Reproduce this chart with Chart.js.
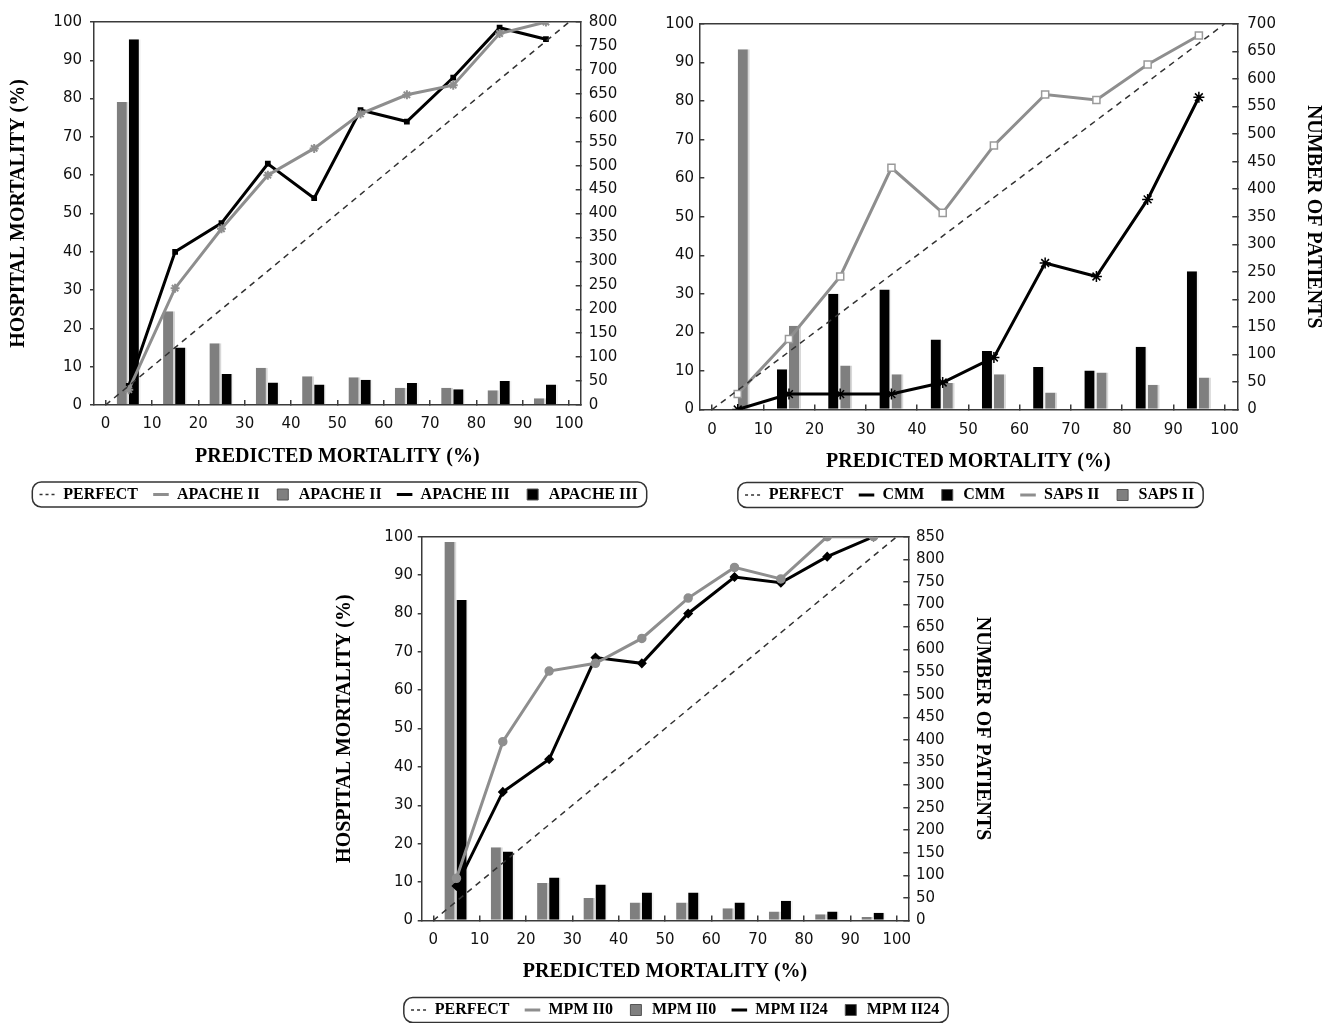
<!DOCTYPE html>
<html>
<head>
<meta charset="utf-8">
<script src="https://cdn.jsdelivr.net/npm/chart.js@4.4.1/dist/chart.umd.min.js"></script>
<style>
html,body{margin:0;padding:0;background:#fff;overflow:hidden;width:1338px;height:1023px;}
.panel{position:absolute;}
canvas{display:block;}
</style>
</head>
<body>
<div class="panel" style="left:0px;top:0px;width:677px;height:515px"><canvas id="c1" width="677" height="515"></canvas></div>
<div class="panel" style="left:614px;top:0px;width:711px;height:515px"><canvas id="c2" width="711" height="515"></canvas></div>
<div class="panel" style="left:320px;top:515px;width:710px;height:515px"><canvas id="c3" width="710" height="515"></canvas></div>
<script>
// ---------------- DATA ----------------
const predicted = [5, 15, 25, 35, 45, 55, 65, 75, 85, 95];
const perfectX = [0, 100];
const perfectY = [0, 100];
const xTicks = [0, 10, 20, 30, 40, 50, 60, 70, 80, 90, 100];
const leftTicks = [0, 10, 20, 30, 40, 50, 60, 70, 80, 90, 100];
const rightTicks1 = [0, 50, 100, 150, 200, 250, 300, 350, 400, 450, 500, 550, 600, 650, 700, 750, 800];
const rightTicks2 = [0, 50, 100, 150, 200, 250, 300, 350, 400, 450, 500, 550, 600, 650, 700];
const rightTicks3 = [0, 50, 100, 150, 200, 250, 300, 350, 400, 450, 500, 550, 600, 650, 700, 750, 800, 850];

// Panel 1
const apache2Mortality = [4, 30.5, 46, 60, 67, 76, 81, 83.5, 97, 100];
const apache2Patients  = [633, 196, 129, 78, 60, 58, 36, 36, 31, 14];
const apache3Mortality = [5, 40, 47.5, 63, 54, 77, 74, 85.5, 98.5, 95.5];
const apache3Patients  = [764, 120, 65, 47, 43, 53, 46, 33, 50, 43];

// Panel 2
const cmmMortality   = [0, 4, 4, 4, 7, 13.5, 38, 34.5, 54.5, 81];
const cmmPatients    = [0, 73, 210, 218, 127, 106, 77, 71, 114, 251];
const saps2Mortality = [4, 18.3, 34.5, 62.7, 51, 68.5, 81.7, 80.3, 89.5, 97];
const saps2Patients  = [654, 152, 80, 64, 48, 64, 31, 67, 45, 58];

// Panel 3
const mpm0Mortality  = [11, 46.6, 65, 67, 73.5, 84, 92, 89, 100, 100];
const mpm0Patients   = [838, 162, 83, 50, 40, 40, 27, 20, 14, 8];
const mpm24Mortality = [9, 33.5, 42, 68.5, 67, 80, 89.5, 88, 94.8, 100];
const mpm24Patients  = [710, 153, 95, 80, 62, 62, 40, 44, 20, 17];

// ---------------- STYLE ----------------
Chart.defaults.font.family = "'DejaVu Sans', Verdana, sans-serif";
const GRAY_BAR = '#7f7f7f';
const GRAY_LINE = '#8e8e8e';
const AXIS = '#3a3a3a';
const serifBold = (size) => ({family: "'Liberation Serif', 'Times New Roman', serif", weight: 'bold', size: size, lineHeight: 1});
const tickArr = (arr) => (s) => { s.ticks = arr.map(v => ({value: v})); };
const pts = (ys) => predicted.map((x, i) => ({x: x, y: ys[i]}));

function lineDs(label, ys, color, style) {
  return Object.assign({
    type: 'line', label: label, data: pts(ys), borderColor: color, backgroundColor: color,
    borderWidth: 3, tension: 0, xAxisID: 'x', yAxisID: 'y', order: 0,
    pointRadius: 4, pointBackgroundColor: color, pointBorderColor: color, pointBorderWidth: 1.5
  }, style);
}
function barDs(label, ys, color, edge, cat) {
  return {
    type: 'bar', label: label, data: pts(ys), backgroundColor: color,
    borderColor: edge, borderWidth: {top: 0, right: 2, bottom: 0, left: 0},
    xAxisID: 'x', yAxisID: 'y1', order: 1, barPercentage: 1, categoryPercentage: cat
  };
}

const legendFrame = {
  id: 'legendFrame',
  afterDraw(chart) {
    const lg = chart.legend;
    if (!lg || !lg.legendHitBoxes || !lg.legendHitBoxes.length) return;
    const hb = lg.legendHitBoxes;
    const l = Math.min(...hb.map(h => h.left)) - 7;
    const r = Math.max(...hb.map(h => h.left + h.width)) + 9;
    const cy = hb[0].top + hb[0].height / 2;
    const ctx = chart.ctx;
    ctx.save();
    ctx.beginPath();
    ctx.roundRect(l, cy - 12.5, r - l, 25, 9);
    ctx.lineWidth = 1.5;
    ctx.strokeStyle = '#333';
    ctx.stroke();
    ctx.restore();
  }
};

function genLabels(chart) {
  const items = Chart.defaults.plugins.legend.labels.generateLabels(chart);
  items.forEach(it => {
    const ds = chart.data.datasets[it.datasetIndex];
    if (ds.type === 'bar') {
      it.pointStyle = 'rect';
      it.fillStyle = ds.backgroundColor;
      it.strokeStyle = '#555';
      it.lineWidth = 1;
      it.lineDash = [];
    } else {
      it.pointStyle = 'line';
      it.strokeStyle = ds.borderColor;
      it.lineWidth = ds.borderDash ? 1.5 : 3;
      it.lineDash = ds.borderDash ? [3, 3] : [];
    }
    it.rotation = 0;
    it.fontColor = '#000';
  });
  return items;
}

function buildChart(id, spec) {
  const datasets = [
    {type: 'line', label: 'PERFECT', data: perfectX.map((x, i) => ({x: x, y: perfectY[i]})),
     borderColor: '#333', backgroundColor: '#333', borderWidth: 1.5, borderDash: [6, 5],
     pointRadius: 0, xAxisID: 'x', yAxisID: 'y', order: 0}
  ].concat(spec.series);

  const axisTitle = (text, pt) => ({display: true, text: text, color: '#000', font: serifBold(20), padding: {top: pt, bottom: 0}});

  return new Chart(document.getElementById(id), {
    type: 'line',
    data: {datasets: datasets},
    options: {
      responsive: false, animation: false, devicePixelRatio: 1,
      layout: {padding: spec.pad},
      plugins: {
        tooltip: {enabled: false},
        legend: {
          position: 'bottom',
          labels: {
            usePointStyle: true, boxWidth: 16, boxHeight: 11, padding: 15, color: '#000',
            font: serifBold(16), generateLabels: genLabels,
            sort: (a, b) => a.datasetIndex - b.datasetIndex
          }
        }
      },
      scales: {
        x: {
          type: 'linear', position: 'bottom', min: -2.5, max: 102.5, offset: false,
          afterBuildTicks: tickArr(xTicks),
          afterFit: (s) => { s.height = spec.xH; },
          grid: {drawOnChartArea: false, offset: false, tickLength: -5, color: AXIS, lineWidth: 1.5},
          border: {display: true, color: AXIS, width: 1.5},
          ticks: {padding: spec.xPad, color: '#111', font: {size: 15}, maxRotation: 0, autoSkip: false},
          title: {display: true, text: 'PREDICTED MORTALITY (%)', color: '#000', font: serifBold(20), padding: {top: 0, bottom: spec.xTitlePb}}
        },
        xTop: {
          type: 'linear', position: 'top', min: -2.5, max: 102.5, offset: false,
          afterFit: (s) => { s.height = 0; },
          grid: {display: false}, ticks: {display: false},
          border: {display: true, color: AXIS, width: 1.5}
        },
        y: {
          type: 'linear', position: 'left', min: 0, max: 100,
          afterBuildTicks: tickArr(leftTicks),
          afterFit: (s) => { s.width = spec.yW; },
          grid: {drawOnChartArea: false, tickLength: spec.yTl, color: AXIS, lineWidth: 1.5},
          border: {display: true, color: AXIS, width: 1.5},
          ticks: {padding: spec.yPad, color: '#111', font: {size: 15}, autoSkip: false},
          title: spec.yTitle ? axisTitle('HOSPITAL MORTALITY (%)', spec.yTitlePt) : {display: false}
        },
        y1: {
          type: 'linear', position: 'right', min: 0, max: spec.rightTicks[spec.rightTicks.length - 1],
          afterBuildTicks: tickArr(spec.rightTicks),
          afterFit: (s) => { s.width = spec.y1W; },
          grid: {drawOnChartArea: false, tickLength: -5, color: AXIS, lineWidth: 1.5},
          border: {display: true, color: AXIS, width: 1.5},
          ticks: {padding: spec.y1Pad, color: '#111', font: {size: 15}, autoSkip: false},
          title: spec.y1Title ? axisTitle('NUMBER OF PATIENTS', spec.y1TitlePt) : {display: false}
        }
      }
    },
    plugins: [legendFrame]
  });
}

// Panel 1
buildChart('c1', {
  pad: {top: 17.5, right: 0, bottom: 2.5, left: 0},
  xH: 66.5, xPad: 15, xTitlePb: 4.5,
  yW: 94, yTl: 4, yPad: 8, yTitle: true, yTitlePt: 9,
  y1W: 96.3, y1Pad: 13, y1Title: false, rightTicks: rightTicks1,
  series: [
    lineDs('APACHE II', apache2Mortality, GRAY_LINE, {pointStyle: 'star', pointRadius: 4.5, pointBorderWidth: 2}),
    barDs('APACHE II', apache2Patients, GRAY_BAR, '#d8d8d8', 0.52),
    lineDs('APACHE III', apache3Mortality, '#000', {pointStyle: 'rect', pointRadius: 3}),
    barDs('APACHE III', apache3Patients, '#000', '#f2f2f2', 0.52)
  ]
});

// Panel 2
buildChart('c2', {
  pad: {top: 12, right: 0, bottom: 2, left: 0},
  xH: 62.5, xPad: 16.5, xTitlePb: 0,
  yW: 85.3, yTl: -5, yPad: 10.3, yTitle: false,
  y1W: 87.7, y1Pad: 15, y1Title: true, y1TitlePt: 2, rightTicks: rightTicks2,
  series: [
    lineDs('CMM', cmmMortality, '#000', {pointStyle: 'star', pointRadius: 5.5, pointBorderWidth: 1.5}),
    barDs('CMM', cmmPatients, '#000', '#f2f2f2', 0.47),
    lineDs('SAPS II', saps2Mortality, GRAY_LINE, {pointStyle: 'rect', pointRadius: 5, pointBackgroundColor: '#fff', pointBorderColor: '#9a9a9a', pointBorderWidth: 1.5}),
    barDs('SAPS II', saps2Patients, GRAY_BAR, '#d8d8d8', 0.47)
  ]
});

// Panel 3
buildChart('c3', {
  pad: {top: 9.6, right: 0, bottom: 2, left: 0},
  xH: 66.5, xPad: 15.5, xTitlePb: 5,
  yW: 101.7, yTl: 4, yPad: 4.7, yTitle: true, yTitlePt: 15,
  y1W: 121.7, y1Pad: 12.7, y1Title: true, y1TitlePt: 38, rightTicks: rightTicks3,
  series: [
    lineDs('MPM II0', mpm0Mortality, GRAY_LINE, {pointStyle: 'circle', pointRadius: 4}),
    barDs('MPM II0', mpm0Patients, GRAY_BAR, '#d8d8d8', 0.52),
    lineDs('MPM II24', mpm24Mortality, '#000', {pointStyle: 'rectRot', pointRadius: 4}),
    barDs('MPM II24', mpm24Patients, '#000', '#f2f2f2', 0.52)
  ]
});
</script>
</body>
</html>
